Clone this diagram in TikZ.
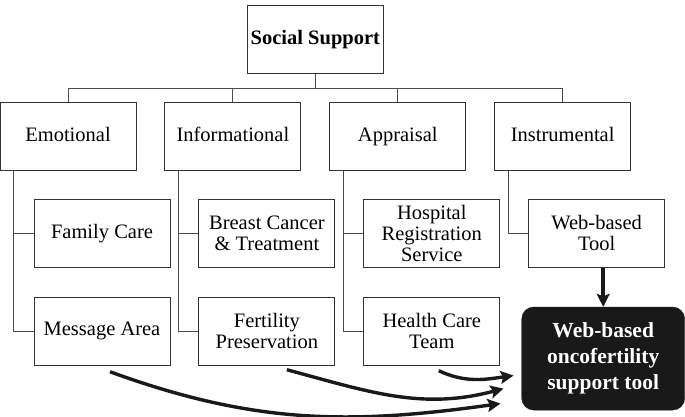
\documentclass[tikz,border=0pt]{standalone}
\usepackage{fontspec}
\setmainfont{Liberation Serif}
\usetikzlibrary{positioning, arrows.meta}

\begin{document}
\begin{tikzpicture}[
        x=1pt, y=1pt,
        node distance=28pt,
        box/.style={rectangle, draw=black!80, line width=0.9pt, minimum width=136pt, minimum height=68pt, inner sep=0pt, align=center, font=\fontsize{20.5}{21}\selectfont},
        typebox/.style={box, text height=14pt, text depth=4.5pt},
        topbox/.style={box, font=\fontsize{20.5}{21}\selectfont\bfseries},
        toolbox/.style={rectangle, rounded corners=12pt, fill=black!90, draw=black!90, text=white, minimum width=163pt, minimum height=103pt, inner sep=0pt, align=center, font=\fontsize{21.5}{26}\selectfont\bfseries},
        branch/.style={draw=black!70, line width=0.9pt},
        arrow/.style={-{Stealth[length=13pt,width=13pt,inset=2.5pt]}, line width=3.4pt, black!90}
    ]
        \useasboundingbox (0,0) rectangle (685,-417);

        % Support types
        \node[typebox] (emo) at (68,-136.5) {Emotional};
        \node[typebox, right=of emo] (info) {Informational};
        \node[typebox, right=of info] (appr) {Appraisal};
        \node[typebox, right=of appr] (inst) {Instrumental};

        % Top
        \node[topbox, above=28pt of info.north east, xshift=14pt] (root) {Social Support};
        \coordinate[below=14pt of root] (bus);

        % Sub items
        \node[box, below right=28pt and 34pt of emo.south west] (fam) {Family Care};
        \node[box, below=29pt of fam] (msg) {Message Area};
        \node[box, below right=28pt and 34pt of info.south west] (breast) {Breast Cancer\\\& Treatment};
        \node[box, below=29pt of breast] (fert) {Fertility\\Preservation};
        \node[box, below right=28pt and 34pt of appr.south west] (hosp) {Hospital\\Registration\\Service};
        \node[box, below=29pt of hosp] (health) {Health Care\\Team};
        \node[box, below right=28pt and 34pt of inst.south west] (web) {Web-based\\Tool};

        % Result
        \node[toolbox, below=39pt of web, xshift=6.5pt] (final) {Web-based\\oncofertility\\support tool};

        % Tree lines
        \foreach \n in {emo, info, appr, inst}
            \draw[branch] (root.south) -- (bus) -| (\n.north);
        \foreach \a/\b/\c in {emo/fam/msg, info/breast/fert, appr/hosp/health}
            \draw[branch] ([xshift=14pt]\a.south west) |- (\b.west)
                ([xshift=14pt]\a.south west) |- (\c.west);
        \draw[branch] ([xshift=14pt]inst.south west) |- (web.west);

        % Arrows into the tool
        \draw[arrow, line width=4pt] (web.south -| final.north) -- (final.north);
        \draw[arrow] ([xshift=8pt,yshift=-6pt]msg.south) to[out=-20, in=188] ([xshift=-21pt,yshift=-45pt]final.west);
        \draw[arrow] ([xshift=20pt,yshift=-4pt]fert.south) to[out=-15, in=195] ([xshift=-18pt,yshift=-30pt]final.west);
        \draw[arrow] ([xshift=7pt,yshift=-5pt]health.south) to[out=-25, in=188] ([xshift=-8pt,yshift=-17pt]final.west);

    \end{tikzpicture}
\end{document}
